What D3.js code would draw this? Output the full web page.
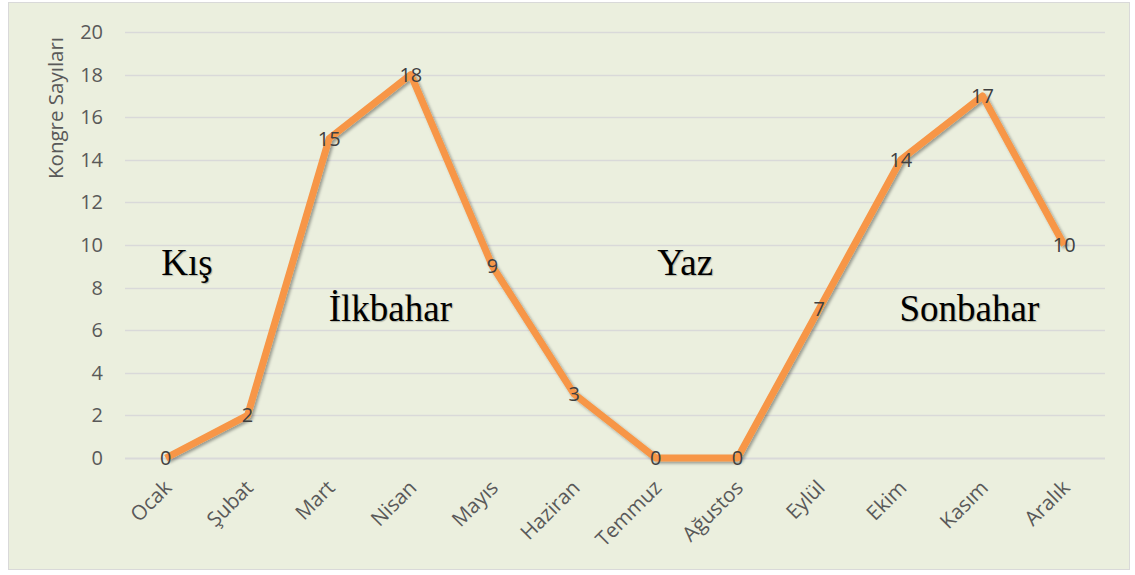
<!DOCTYPE html>
<html>
<head>
<meta charset="utf-8">
<script src="https://cdn.jsdelivr.net/npm/d3@7"></script>
<style>
  body { margin: 0; background: #fff; }
  svg { display: block; }
</style>
</head>
<body>
<div id="chart"></div>
<script>
// months and counts
var months = ['Ocak', 'Şubat', 'Mart', 'Nisan', 'Mayıs', 'Haziran', 'Temmuz', 'Ağustos', 'Eylül', 'Ekim', 'Kasım', 'Aralık'];
var counts = [0, 2, 15, 18, 9, 3, 0, 0, 7, 14, 17, 10];
var yTicks = [0, 2, 4, 6, 8, 10, 12, 14, 16, 18, 20];
// season labels, placed in data space (month index, value)
var seasons = [
  { name: 'Kış', idx: 0.26, y: 8.6 },
  { name: 'İlkbahar', idx: 2.75, y: 6.45 },
  { name: 'Yaz', idx: 6.36, y: 8.6 },
  { name: 'Sonbahar', idx: 9.84, y: 6.45 }
];

var width = 1135, height = 575;
var margin = { top: 32, right: 30, bottom: 117, left: 125 };
var font = 'Open Sans, sans-serif';

var svg = d3.select('#chart').append('svg')
  .attr('width', width)
  .attr('height', height);

var defs = svg.append('defs');
var f = defs.append('filter').attr('id', 'shadow')
  .attr('x', '-10%').attr('y', '-10%').attr('width', '120%').attr('height', '120%');
f.append('feDropShadow')
  .attr('dx', 2).attr('dy', 2).attr('stdDeviation', 1.5)
  .attr('flood-color', '#000').attr('flood-opacity', 0.35);

// background + border
svg.append('rect')
  .attr('x', 8.5).attr('y', 2.5)
  .attr('width', 1121).attr('height', 567)
  .attr('fill', '#EBEFDE')
  .attr('stroke', '#D9D9D9');

var x = d3.scaleBand()
  .domain(months)
  .range([margin.left, width - margin.right]);
var y = d3.scaleLinear()
  .domain([0, 20])
  .range([height - margin.bottom, margin.top]);
// month index -> centre of band
var xi = d3.scaleLinear()
  .domain([0, months.length - 1])
  .range([x(months[0]) + x.bandwidth() / 2, x(months[months.length - 1]) + x.bandwidth() / 2]);

// gridlines
svg.append('g')
  .selectAll('line')
  .data(yTicks)
  .enter().append('line')
  .attr('x1', margin.left)
  .attr('x2', width - margin.right)
  .attr('y1', function(d) { return Math.round(y(d)) + 0.5; })
  .attr('y2', function(d) { return Math.round(y(d)) + 0.5; })
  .attr('stroke', '#D9D9D9')
  .attr('stroke-width', function(d) { return d === 0 ? 2 : 1.3; });

// y axis
var yAxis = svg.append('g')
  .attr('transform', 'translate(' + (margin.left - 22) + ',0)')
  .call(d3.axisLeft(y).tickValues(yTicks).tickSize(0).tickPadding(0));
yAxis.select('.domain').remove();
yAxis.selectAll('text')
  .attr('font-family', font)
  .attr('font-size', 20)
  .attr('fill', '#595959');

// x axis
var xAxis = svg.append('g')
  .attr('transform', 'translate(0,' + (height - margin.bottom) + ')')
  .call(d3.axisBottom(x).tickSize(0).tickPadding(0));
xAxis.select('.domain').remove();
xAxis.selectAll('text')
  .attr('font-family', font)
  .attr('font-size', 20.5)
  .attr('fill', '#595959')
  .attr('text-anchor', 'end')
  .attr('dy', 0)
  .attr('transform', 'translate(7,31) rotate(-45)');

// y axis title
svg.append('text')
  .attr('transform', 'translate(63,' + 108 + ') rotate(-90)')
  .attr('text-anchor', 'middle')
  .attr('font-family', font)
  .attr('font-size', 20.5)
  .attr('fill', '#595959')
  .text('Kongre Sayıları');

// line
var line = d3.line()
  .x(function(d, i) { return xi(i); })
  .y(function(d) { return y(d); });

svg.append('path')
  .datum(counts)
  .attr('d', line)
  .attr('fill', 'none')
  .attr('stroke', '#F79646')
  .attr('stroke-width', 7)
  .attr('stroke-linejoin', 'round')
  .attr('filter', 'url(#shadow)');

// data labels
svg.append('g')
  .selectAll('text')
  .data(counts)
  .enter().append('text')
  .attr('x', function(d, i) { return xi(i); })
  .attr('y', function(d) { return y(d) + 7; })
  .attr('text-anchor', 'middle')
  .attr('font-family', font)
  .attr('font-size', 20)
  .attr('fill', '#404040')
  .text(function(d) { return d; });

// season annotations
svg.append('g')
  .selectAll('text')
  .data(seasons)
  .enter().append('text')
  .attr('x', function(d) { return xi(d.idx); })
  .attr('y', function(d) { return y(d.y); })
  .attr('text-anchor', 'middle')
  .attr('font-family', 'Liberation Serif, Times New Roman, serif')
  .attr('font-size', 37)
  .attr('fill', '#000')
  .style('text-shadow', '1px 1px 1px rgba(0,0,0,0.25)')
  .text(function(d) { return d.name; });
</script>
</body>
</html>
